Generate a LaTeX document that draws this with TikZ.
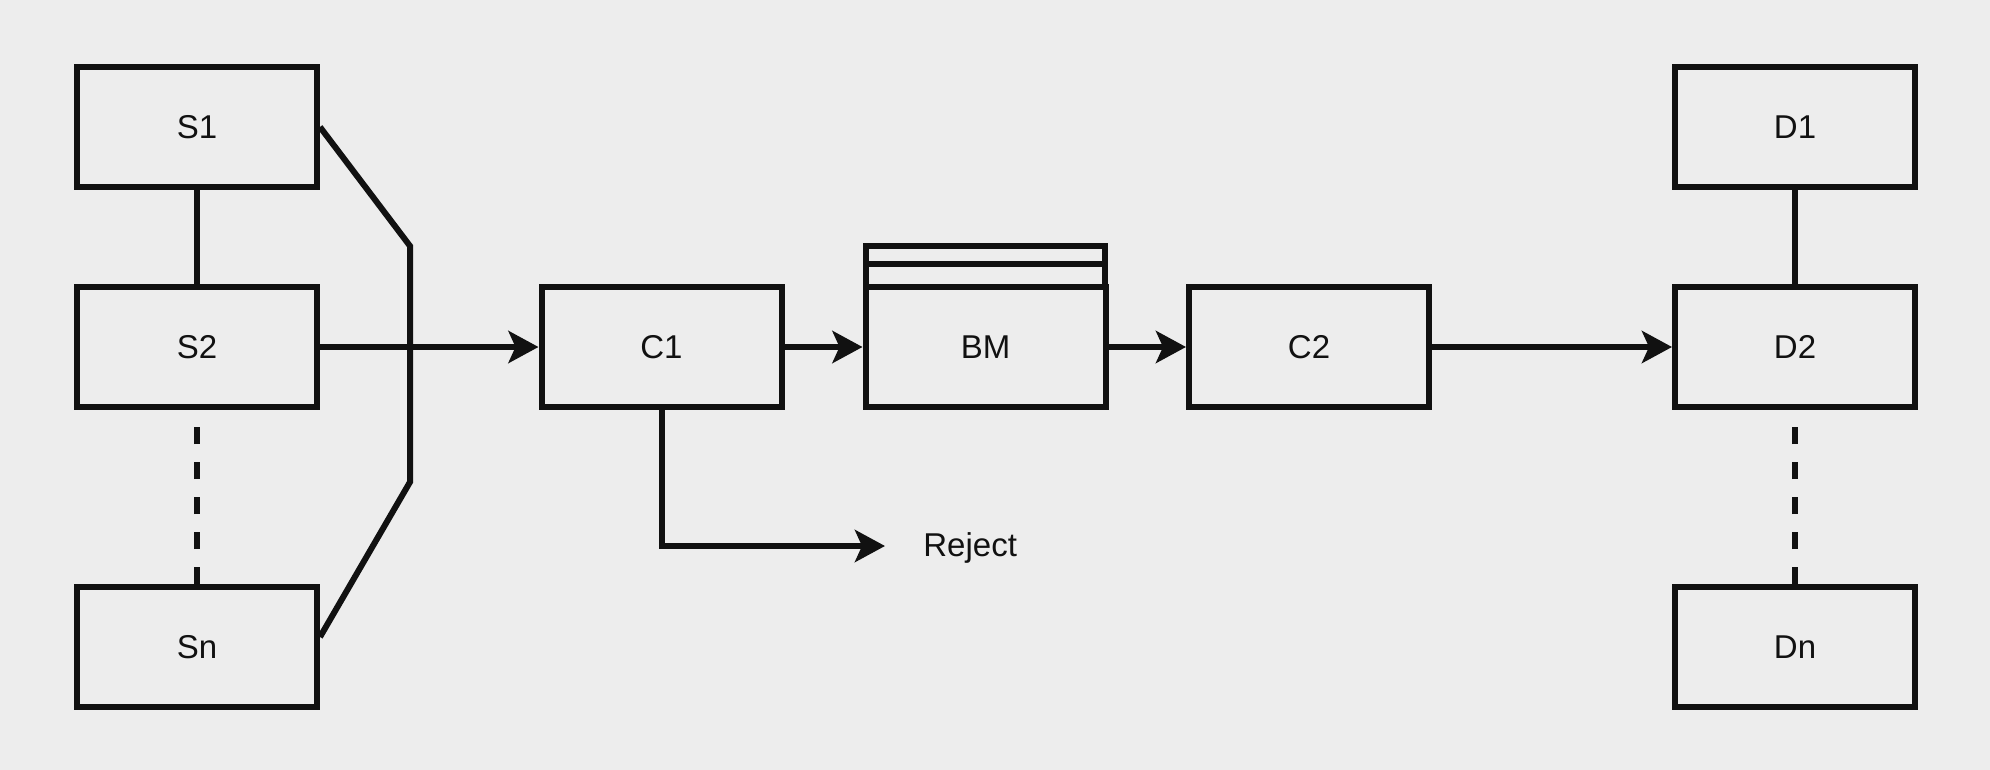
\documentclass[tikz,border=0pt]{standalone}
\usepackage{fontspec}
\setmainfont{Liberation Sans}
\usetikzlibrary{arrows.meta,calc}
\definecolor{bg}{HTML}{EDEDED}
\definecolor{ink}{HTML}{111111}
\begin{document}
\begin{tikzpicture}[x=0.5pt,y=-0.5pt,
  lbl/.style={font=\fontsize{16.5pt}{19pt}\selectfont, text=ink},
  box/.style={lbl, draw=ink, line width=3pt, minimum width=120pt, minimum height=60pt, inner sep=0pt},
  conn/.style={draw=ink, line width=3pt, line join=miter},
  arr/.style={conn, -{Stealth[length=15pt,width=16pt,inset=3.5pt]}},
  dashline/.style={conn, dash pattern=on 8.75pt off 8.75pt}]
\fill[bg] (0,0) rectangle (1990,770);
\useasboundingbox (0,0) rectangle (1990,770);
% sources
\node[box] (S1) at (197,127) {S1};
\node[box] (S2) at (197,347) {S2};
\node[box] (Sn) at (197,647) {Sn};
% chain
\node[box] (C1) at (661.5,347) {C1};
\node[box] (BM) at (985.5,347) {BM};
\draw[conn] (866,287) -- (866,246) -- (1105,246) -- (1105,287);
\draw[conn] (866,264) -- (1105,264);
\node[box] (C2) at (1309,347) {C2};
% destinations
\node[box] (D1) at (1795,127) {D1};
\node[box] (D2) at (1795,347) {D2};
\node[box] (Dn) at (1795,647) {Dn};
% connectors
\draw[conn] (S1) -- (S2);
\draw[dashline] (Sn) -- (S2);
\draw[conn] (D1) -- (D2);
\draw[dashline] (Dn) -- (D2);
\coordinate (bt) at (410,246);
\coordinate (bb) at (410,482);
\draw[conn] (S1.east) -- (bt) -- (bb) -- ($(Sn.east)+(0,-10)$);
\draw[arr] (S2) -- (C1);
\draw[arr] (C1) -- (BM);
\draw[arr] (BM) -- (C2);
\draw[arr] (C2) -- (D2);
\coordinate (rj) at (885,546);
\draw[arr] (C1.south) -- (C1.south |- rj) -- (rj);
\node[lbl, anchor=west, inner sep=0pt] (reject) at (923,548) {Reject};
\end{tikzpicture}
\end{document}
